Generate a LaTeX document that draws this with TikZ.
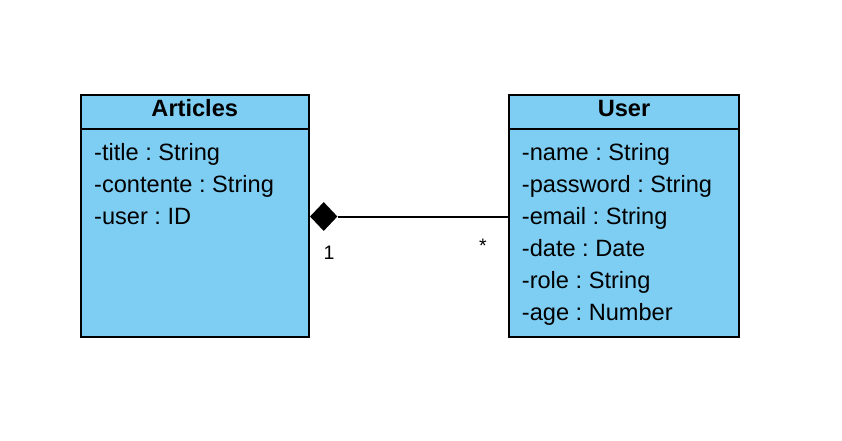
\documentclass[tikz,border=0pt]{standalone}
\usepackage{fontspec}
\setmainfont{Liberation Sans}
\frenchspacing
\usetikzlibrary{shapes.geometric}
\definecolor{classblue}{RGB}{126,206,243}
\begin{document}
\begin{tikzpicture}[x=1pt,y=-1pt,
  classbox/.style={draw=black, line width=2pt, fill=classblue},
  attr/.style={anchor=base west, inner sep=0pt, font=\fontsize{23.6}{28}\selectfont},
  title/.style={anchor=base, inner sep=0pt, font=\fontsize{23.6}{28}\selectfont\bfseries},
  mult/.style={anchor=base, inner sep=0pt, font=\fontsize{19.5}{24}\selectfont},
  conn/.style={draw=black, line width=2pt}]
\fill[white] (0,0) rectangle (842,440);
\useasboundingbox (0,0) rectangle (842,440);
% Articles
\path[classbox] (81,95) rectangle (308.5,336.5);
\coordinate (artHL) at (81,129);
\coordinate (artHR) at (308.5,129);
\draw[line width=2pt] (artHL) -- (artHR);
\node[title] (artTitle) at (194.75,116.5) {Articles};
\node[attr] (a1) at (94,160.3) {-title : String};
\node[attr] (a2) at (94,192.3) {-contente : String};
\node[attr] (a3) at (94,224.3) {-user : ID};
% User
\path[classbox] (509,95) rectangle (739,336.5);
\coordinate (usrHL) at (509,129);
\coordinate (usrHR) at (739,129);
\coordinate (usrW) at (509,216.5);
\draw[line width=2pt] (usrHL) -- (usrHR);
\node[title] (usrTitle) at (624,116.5) {User};
\node[attr] (u1) at (521.7,160.3) {-name : String};
\node[attr] (u2) at (521.7,192.3) {-password : String};
\node[attr] (u3) at (521.7,224.3) {-email : String};
\node[attr] (u4) at (521.7,256.3) {-date : Date};
\node[attr] (u5) at (521.7,288.3) {-role : String};
\node[attr] (u6) at (521.7,320.3) {-age : Number};
% composition
\node[diamond, fill=black, inner sep=0pt, minimum width=27.5pt, minimum height=29pt] (dia) at (323.7,216.5) {};
\draw[conn] (dia.east) -- (usrW);
\node[mult] (m1) at (329,259) {1};
\node[mult] (m2) at (483,252) {*};
\end{tikzpicture}
\end{document}
